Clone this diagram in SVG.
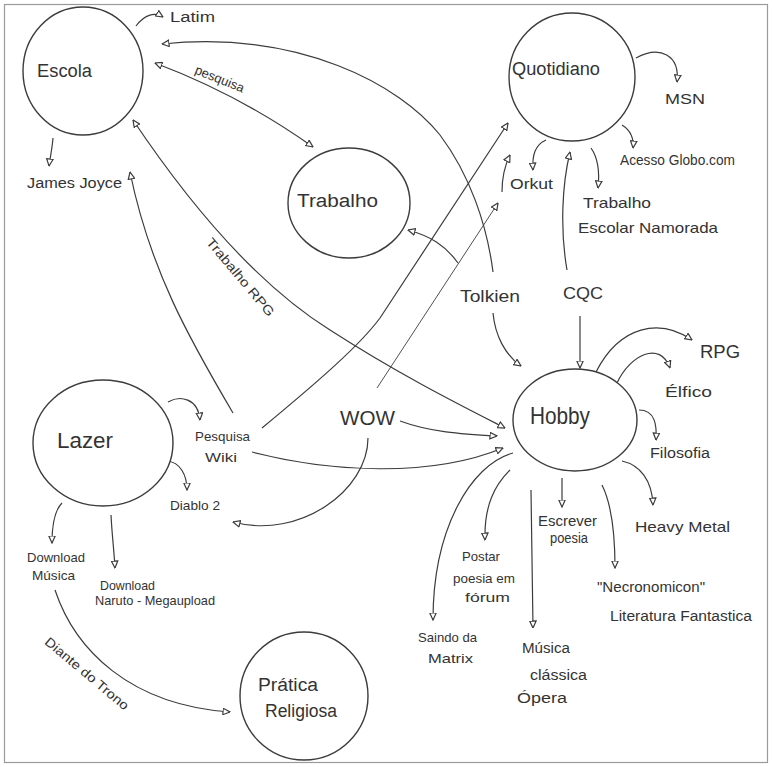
<svg xmlns="http://www.w3.org/2000/svg" width="772" height="767" viewBox="0 0 772 767">
<style>
.bg{fill:#ffffff}
.frame{fill:none;stroke:#9a9a9a;stroke-width:1.2}
.node{fill:#ffffff;stroke:#3c3c3c;stroke-width:1.4}
.c{fill:none;stroke:#3c3c3c;stroke-width:1.2;marker-end:url(#ah)}
.thin{stroke-width:0.9}
.both{marker-start:url(#ahs)}
text{font-family:"Liberation Sans","DejaVu Sans",sans-serif;fill:#333333}
.n{font-size:18px}
.s{font-size:14px}
.xs{font-size:13px}
</style>
<defs>
<marker id="ah" viewBox="0 0 8 8" refX="7.5" refY="4" markerWidth="8" markerHeight="8" markerUnits="userSpaceOnUse" orient="auto">
<path d="M0.5,0.8 L7.5,4 L0.5,7.2 z" fill="#ffffff" stroke="#3c3c3c" stroke-width="1.2"/>
</marker>
<marker id="ahs" viewBox="0 0 8 8" refX="7.5" refY="4" markerWidth="8" markerHeight="8" markerUnits="userSpaceOnUse" orient="auto-start-reverse">
<path d="M0.5,0.8 L7.5,4 L0.5,7.2 z" fill="#ffffff" stroke="#3c3c3c" stroke-width="1.2"/>
</marker>
</defs>
<rect class="bg" x="0" y="0" width="772" height="767"/>
<rect class="frame" x="4.5" y="4.5" width="763" height="758"/>

<g id="connectors">
<path class="c" d="M136,26 C145,14 155,12 163,17"/>
<path class="c" d="M53,138 C52,150 50,158 49,166"/>
<path class="c both" d="M155,63 Q240,95 313,147"/>
<path class="c" d="M493,272 C487,225 470,175 440,135 C400,85 300,30 162,44"/>
<path class="c" d="M458,263 C445,245 430,236 408,230"/>
<path class="c" d="M493,313 C495,335 505,355 521,366"/>
<path class="c" d="M567,270 C560,230 562,185 570,152"/>
<path class="c" d="M580,316 L580,368"/>
<path class="c" d="M636,58 C660,45 680,55 677,82"/>
<path class="c" d="M622,125 C630,130 634,138 633,148"/>
<path class="c" d="M546,140 C535,145 532,155 533,170"/>
<path class="c" d="M591,148 C598,158 600,170 598,188"/>
<path class="c" d="M502,192 C502,180 505,165 510,155"/>
<path class="c" d="M262,428 C320,380 360,345 380,318 L508,123"/>
<path class="c thin" d="M377,388 L498,203"/>
<path class="c both" d="M133,120 C180,190 250,280 330,330 C400,375 460,405 505,428"/>
<path class="c" d="M233,413 C190,340 150,270 130,172"/>
<path class="c" d="M168,402 C180,395 198,398 200,420"/>
<path class="c" d="M167,461 C180,462 187,475 187,490"/>
<path class="c" d="M62,503 C55,510 52,525 52,543"/>
<path class="c" d="M111,515 C112,535 114,550 115,568"/>
<path class="c" d="M55,590 C75,650 130,705 230,712"/>
<path class="c" d="M400,421 C430,432 460,434 497,436"/>
<path class="c" d="M368,438 C368,490 300,540 233,522"/>
<path class="c" d="M252,452 C330,472 430,478 503,448"/>
<path class="c" d="M596,372 C620,325 660,318 692,340"/>
<path class="c" d="M617,383 C630,355 660,340 670,368"/>
<path class="c" d="M639,410 C655,410 657,425 656,440"/>
<path class="c" d="M622,461 C640,465 652,480 653,505"/>
<path class="c" d="M602,485 C612,505 615,535 615,568"/>
<path class="c" d="M562,478 L562,507"/>
<path class="c" d="M531,490 L533,628"/>
<path class="c" d="M510,470 C495,485 484,505 485,540"/>
<path class="c" d="M513,453 C470,465 433,530 433,620"/>
</g>

<g id="escola">
<ellipse class="node" cx="83" cy="71" rx="60" ry="64"/>
<text class="n" x="37" y="77" textLength="55" lengthAdjust="spacingAndGlyphs">Escola</text>
</g>
<g id="trabalho">
<ellipse class="node" cx="349" cy="203" rx="61" ry="55"/>
<text class="n" x="297" y="207" font-size="19" textLength="81" lengthAdjust="spacingAndGlyphs">Trabalho</text>
</g>
<g id="quotidiano">
<ellipse class="node" cx="572" cy="77" rx="63" ry="64"/>
<text class="n" x="512" y="75" textLength="88" lengthAdjust="spacingAndGlyphs">Quotidiano</text>
</g>
<g id="lazer">
<ellipse class="node" cx="103" cy="443" rx="70" ry="63"/>
<text x="57" y="448" font-size="22" textLength="56" lengthAdjust="spacingAndGlyphs">Lazer</text>
</g>
<g id="hobby">
<ellipse class="node" cx="575" cy="420" rx="62" ry="51"/>
<text x="530" y="424" font-size="24" textLength="60" lengthAdjust="spacingAndGlyphs">Hobby</text>
</g>
<g id="pratica-religiosa">
<ellipse class="node" cx="304" cy="696" rx="64" ry="64"/>
<text class="n" x="258" y="691" textLength="60" lengthAdjust="spacingAndGlyphs">Prática</text>
<text class="n" x="265" y="717" textLength="72" lengthAdjust="spacingAndGlyphs">Religiosa</text>
</g>

<g id="latim"><text class="s" x="170" y="22" textLength="45" lengthAdjust="spacingAndGlyphs">Latim</text></g>
<g id="james-joyce"><text class="s" x="27" y="188" textLength="95" lengthAdjust="spacingAndGlyphs">James Joyce</text></g>
<g id="pesquisa-label"><text class="xs" transform="translate(218,83) rotate(22)" text-anchor="middle">pesquisa</text></g>
<g id="trabalho-rpg-label"><text class="xs" transform="translate(237,280) rotate(50)" text-anchor="middle" textLength="98" lengthAdjust="spacingAndGlyphs">Trabalho RPG</text></g>
<g id="pesquisa-wiki">
<text class="xs" x="195" y="441" textLength="55" lengthAdjust="spacingAndGlyphs">Pesquisa</text>
<text class="xs" x="205" y="462" textLength="32" lengthAdjust="spacingAndGlyphs">Wiki</text>
</g>
<g id="diablo2"><text class="xs" x="170" y="510" textLength="50" lengthAdjust="spacingAndGlyphs">Diablo 2</text></g>
<g id="download-musica">
<text class="xs" x="27" y="562" textLength="58" lengthAdjust="spacingAndGlyphs">Download</text>
<text class="xs" x="32" y="580" textLength="43" lengthAdjust="spacingAndGlyphs">Música</text>
</g>
<g id="download-naruto">
<text class="xs" x="100" y="590" textLength="55" lengthAdjust="spacingAndGlyphs">Download</text>
<text class="xs" x="95" y="605" textLength="120" lengthAdjust="spacingAndGlyphs">Naruto - Megaupload</text>
</g>
<g id="diante-label"><text class="xs" transform="translate(84,677) rotate(40)" text-anchor="middle" textLength="105" lengthAdjust="spacingAndGlyphs">Diante do Trono</text></g>
<g id="wow"><text x="340" y="425" font-size="20" textLength="55" lengthAdjust="spacingAndGlyphs">WOW</text></g>
<g id="tolkien"><text x="460" y="302" font-size="17" textLength="60" lengthAdjust="spacingAndGlyphs">Tolkien</text></g>
<g id="cqc"><text x="563" y="299" font-size="17" textLength="40" lengthAdjust="spacingAndGlyphs">CQC</text></g>
<g id="msn"><text x="665" y="104" font-size="15" textLength="40" lengthAdjust="spacingAndGlyphs">MSN</text></g>
<g id="acesso-globo"><text class="s" x="620" y="165" textLength="115" lengthAdjust="spacingAndGlyphs">Acesso Globo.com</text></g>
<g id="orkut"><text class="s" x="510" y="189" textLength="43" lengthAdjust="spacingAndGlyphs">Orkut</text></g>
<g id="trabalho-escolar">
<text x="583" y="208" font-size="15" textLength="68" lengthAdjust="spacingAndGlyphs">Trabalho</text>
<text x="578" y="233" font-size="15" textLength="140" lengthAdjust="spacingAndGlyphs">Escolar Namorada</text>
</g>
<g id="rpg"><text x="700" y="358" font-size="18" textLength="40" lengthAdjust="spacingAndGlyphs">RPG</text></g>
<g id="elfico"><text x="665" y="397" font-size="15" textLength="47" lengthAdjust="spacingAndGlyphs">Élfico</text></g>
<g id="filosofia"><text class="s" x="650" y="458" textLength="60" lengthAdjust="spacingAndGlyphs">Filosofia</text></g>
<g id="heavy-metal"><text x="635" y="532" font-size="15" textLength="95" lengthAdjust="spacingAndGlyphs">Heavy Metal</text></g>
<g id="necronomicon">
<text class="s" x="597" y="592" textLength="108" lengthAdjust="spacingAndGlyphs">"Necronomicon"</text>
<text class="s" x="610" y="621" textLength="142" lengthAdjust="spacingAndGlyphs">Literatura Fantastica</text>
</g>
<g id="escrever-poesia">
<text class="s" x="538" y="526" textLength="59" lengthAdjust="spacingAndGlyphs">Escrever</text>
<text class="s" x="550" y="543" textLength="38" lengthAdjust="spacingAndGlyphs">poesia</text>
</g>
<g id="postar-poesia">
<text class="xs" x="462" y="561" textLength="38" lengthAdjust="spacingAndGlyphs">Postar</text>
<text class="xs" x="453" y="583" textLength="62" lengthAdjust="spacingAndGlyphs">poesia em</text>
<text class="xs" x="465" y="602" textLength="45" lengthAdjust="spacingAndGlyphs">fórum</text>
</g>
<g id="saindo-matrix">
<text class="xs" x="418" y="642" textLength="59" lengthAdjust="spacingAndGlyphs">Saindo da</text>
<text class="xs" x="428" y="663" textLength="45" lengthAdjust="spacingAndGlyphs">Matrix</text>
</g>
<g id="musica-classica">
<text class="s" x="522" y="653" textLength="48" lengthAdjust="spacingAndGlyphs">Música</text>
<text class="s" x="530" y="680" textLength="57" lengthAdjust="spacingAndGlyphs">clássica</text>
<text class="s" x="517" y="703" textLength="50" lengthAdjust="spacingAndGlyphs">Ópera</text>
</g>
</svg>
